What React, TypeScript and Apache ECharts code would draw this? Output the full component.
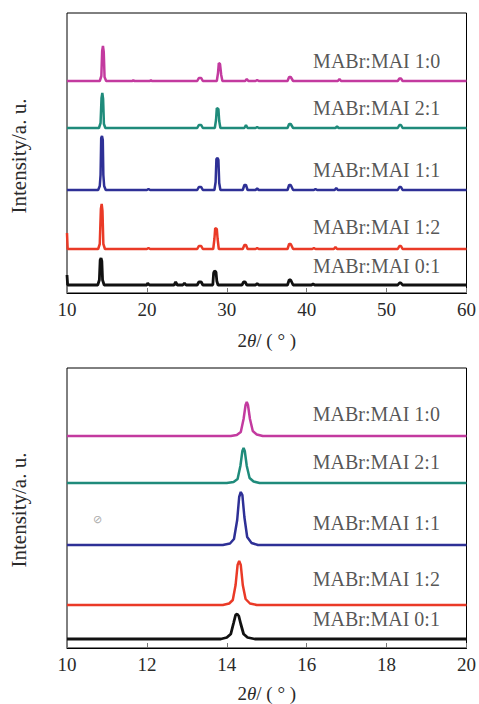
import React, { useEffect, useRef } from "react";
import * as echarts from "echarts";

const FONT = '"Liberation Serif", "Times New Roman", serif';

const NAMES = ["MABr:MAI 1:0", "MABr:MAI 2:1", "MABr:MAI 1:1", "MABr:MAI 1:2", "MABr:MAI 0:1"];
const COLORS = ["#c33a9f", "#1f8b7b", "#2e3096", "#ea3a27", "#111111"];

// Wide scan (2θ 10–60°), raw intensities (a.u.) above each trace's own baseline
const TOP_MAGENTA = [
  [10, 0], [14.1, 0], [14.3, 5], [14.4, 30], [14.5, 35], [14.6, 29], [14.7, 4], [14.9, 0],
  [18.2, 0], [18.3, 1], [18.4, 0], [20.4, 0], [20.5, 1], [20.6, 0],
  [26.3, 0], [26.5, 3], [26.8, 3], [27.0, 0],
  [28.75, 0], [28.9, 8], [29.0, 18], [29.15, 17], [29.3, 6], [29.45, 0],
  [32.3, 0], [32.5, 2], [32.7, 0], [33.6, 0], [33.8, 1], [34.0, 0],
  [37.6, 0], [37.8, 4], [38.0, 4], [38.3, 0],
  [43.9, 0], [44.1, 2], [44.3, 0],
  [51.4, 0], [51.6, 2.5], [51.8, 2.5], [52.0, 0], [60, 0],
];
const TOP_TEAL = [
  [10, 0], [14.0, 0], [14.2, 5], [14.32, 30], [14.42, 35], [14.52, 29], [14.62, 4], [14.8, 0],
  [26.3, 0], [26.5, 3], [26.8, 3], [27.0, 0],
  [28.5, 0], [28.65, 8], [28.75, 20], [28.95, 19], [29.05, 7], [29.2, 0],
  [32.2, 0], [32.4, 3], [32.6, 0], [33.6, 0], [33.8, 1], [34.0, 0],
  [37.6, 0], [37.8, 4], [38.0, 4], [38.3, 0],
  [43.6, 0], [43.8, 1.5], [44.0, 0],
  [51.4, 0], [51.6, 3], [51.8, 3], [52.0, 0], [60, 0],
];
const TOP_BLUE = [
  [10, 0], [13.9, 0], [14.1, 4], [14.2, 15], [14.28, 52], [14.38, 54], [14.48, 50], [14.55, 15], [14.65, 4], [14.85, 0],
  [20.0, 0], [20.2, 1], [20.4, 0],
  [26.3, 0], [26.5, 3], [26.8, 3], [27.0, 0],
  [28.45, 0], [28.6, 8], [28.7, 31], [28.85, 32], [28.95, 30], [29.05, 7], [29.2, 0],
  [32.0, 0], [32.2, 5], [32.4, 5], [32.6, 0], [33.6, 0], [33.8, 1.5], [34.0, 0],
  [37.6, 0], [37.8, 5], [38.0, 5], [38.3, 0],
  [40.9, 0], [41.1, 1], [41.3, 0],
  [43.5, 0], [43.7, 2], [43.9, 0],
  [51.4, 0], [51.6, 3], [51.8, 3], [52.0, 0], [60, 0],
];
const TOP_RED = [
  [10, 16], [10.08, 0], [13.9, 0], [14.1, 5], [14.24, 40], [14.34, 45], [14.44, 38], [14.55, 5], [14.75, 0],
  [20.0, 0], [20.2, 1], [20.4, 0],
  [26.3, 0], [26.5, 3], [26.8, 3], [27.0, 0],
  [28.3, 0], [28.45, 10], [28.55, 21], [28.75, 20], [28.85, 10], [29.0, 0],
  [32.0, 0], [32.2, 4], [32.4, 4], [32.6, 0], [33.6, 0], [33.8, 1], [34.0, 0],
  [37.6, 0], [37.8, 5], [38.0, 5], [38.3, 0],
  [40.7, 0], [40.9, 1], [41.1, 0],
  [43.4, 0], [43.6, 2], [43.8, 0],
  [51.4, 0], [51.6, 3], [51.8, 3], [52.0, 0], [60, 0],
];
const TOP_BLACK = [
  [10, 10], [10.08, 0], [13.85, 0], [14.05, 5], [14.15, 25], [14.26, 27], [14.36, 24], [14.45, 5], [14.65, 0],
  [20.0, 0], [20.1, 2], [20.3, 0],
  [23.4, 0], [23.6, 3], [23.8, 0], [24.5, 0], [24.7, 2], [24.9, 0],
  [26.3, 0], [26.5, 3], [26.8, 3], [27.0, 0],
  [28.25, 0], [28.35, 12], [28.45, 14], [28.65, 13], [28.75, 4], [28.9, 0],
  [31.9, 0], [32.1, 3], [32.3, 3], [32.5, 0], [33.6, 0], [33.8, 1.5], [34.0, 0],
  [37.6, 0], [37.8, 5], [38.0, 5], [38.3, 0],
  [40.6, 0], [40.8, 1], [41.0, 0],
  [51.4, 0], [51.6, 2], [51.8, 2], [52.0, 0], [60, 0],
];

// Narrow scan (2θ 10–20°)
const BOT_MAGENTA = [
  [10, 0], [14.1, 0], [14.25, 1], [14.35, 4], [14.42, 17], [14.47, 31], [14.5, 34], [14.53, 31], [14.58, 17], [14.65, 5], [14.75, 1.5], [14.9, 0], [20, 0],
];
const BOT_TEAL = [
  [10, 0], [14.0, 0], [14.17, 1], [14.27, 4], [14.34, 17], [14.39, 32], [14.42, 35], [14.45, 32], [14.5, 17], [14.57, 5], [14.67, 1.5], [14.82, 0], [20, 0],
];
const BOT_BLUE = [
  [10, 0], [13.9, 0], [14.08, 1.5], [14.18, 6], [14.26, 25], [14.31, 48], [14.35, 53], [14.39, 50], [14.44, 28], [14.51, 8], [14.62, 2], [14.78, 0], [20, 0],
];
const BOT_RED = [
  [10, 0], [13.9, 0], [14.06, 1.5], [14.15, 5], [14.22, 20], [14.27, 40], [14.31, 44], [14.35, 40], [14.4, 20], [14.47, 6], [14.58, 1.5], [14.75, 0], [20, 0],
];
const BOT_BLACK = [
  [10, 0], [13.85, 0], [14.0, 1.5], [14.1, 5], [14.17, 16], [14.22, 24], [14.26, 25], [14.3, 23], [14.35, 15], [14.42, 5], [14.52, 1.5], [14.7, 0], [20, 0],
];

const TOP_DATA = [TOP_MAGENTA, TOP_TEAL, TOP_BLUE, TOP_RED, TOP_BLACK];
const BOT_DATA = [BOT_MAGENTA, BOT_TEAL, BOT_BLUE, BOT_RED, BOT_BLACK];
const TOP_OFFSETS = [212, 165, 103, 44, 8];
const BOT_OFFSETS = [212, 165, 103, 43, 9];
const TOP_LABEL_POS = [[40.8, 232], [40.8, 185], [40.8, 123], [40.8, 66], [40.8, 27]];
const BOT_LABEL_POS = [[16.15, 234], [16.15, 186], [16.15, 125], [16.15, 69], [16.15, 29]];

const X_NAME = "{a|2}{b|θ}{a|/ ( ° )}";
const Y_NAME = "Intensity/a. u.";

const TEXT_COLOR = "#2a2a2a";

function xAxis(gridIndex: number, min: number, max: number, interval: number, nameGap: number) {
  return {
    gridIndex,
    type: "value",
    min,
    max,
    interval,
    axisLine: { show: true, lineStyle: { color: "#000", width: 1 } },
    axisTick: { show: true, inside: true, length: 5, lineStyle: { color: "#777" } },
    axisLabel: { fontFamily: FONT, fontSize: 19, color: TEXT_COLOR, margin: 7 },
    splitLine: { show: false },
    name: X_NAME,
    nameLocation: "middle",
    nameGap,
    nameTextStyle: {
      rich: {
        a: { fontFamily: FONT, fontSize: 19, color: TEXT_COLOR },
        b: { fontFamily: FONT, fontSize: 19, color: TEXT_COLOR, fontStyle: "italic" },
      },
    },
  };
}

function yAxis(gridIndex: number) {
  return {
    gridIndex,
    type: "value",
    min: 0,
    max: 280,
    axisLine: { show: false },
    axisTick: { show: false },
    axisLabel: { show: false },
    splitLine: { show: false },
  };
}

export default function App() {
  const ref = useRef<HTMLDivElement>(null);
  useEffect(() => {
    if (!ref.current) return;
    const chart = echarts.init(ref.current, undefined, { renderer: "svg" });
    const series: any[] = [];
    const addPanel = (axisIdx: number, data: number[][][], offsets: number[], labels: number[][]) => {
      data.forEach((pts, i) => {
        series.push({
          type: "line",
          name: NAMES[i],
          xAxisIndex: axisIdx,
          yAxisIndex: axisIdx,
          data: pts.map(([x, y]) => [x, y + offsets[i]]),
          showSymbol: false,
          symbol: "none",
          silent: true,
          lineStyle: { color: COLORS[i], width: i === 4 ? 2.8 : 2.5 },
          z: 2,
        });
      });
      series.push({
        type: "scatter",
        xAxisIndex: axisIdx,
        yAxisIndex: axisIdx,
        symbolSize: 1,
        silent: true,
        itemStyle: { color: "rgba(0,0,0,0)" },
        data: NAMES.map((n, i) => ({ name: n, value: labels[i] })),
        label: {
          show: true,
          position: "inside",
          align: "left",
          verticalAlign: "middle",
          formatter: (p: any) => p.name,
          fontFamily: FONT,
          fontSize: 20,
          color: TEXT_COLOR,
        },
        z: 3,
      });
    };
    addPanel(0, TOP_DATA, TOP_OFFSETS, TOP_LABEL_POS);
    addPanel(1, BOT_DATA, BOT_OFFSETS, BOT_LABEL_POS);

    chart.setOption({
      animation: false,
      backgroundColor: "#fff",
      grid: [
        { left: 67, top: 13, width: 403, height: 280, show: true, borderColor: "#000", borderWidth: 1, backgroundColor: "transparent" },
        { left: 67, top: 368, width: 403, height: 281, show: true, borderColor: "#000", borderWidth: 1, backgroundColor: "transparent" },
      ],
      xAxis: [xAxis(0, 10, 60, 10, 38), xAxis(1, 10, 20, 2, 36)],
      yAxis: [yAxis(0), yAxis(1)],
      graphic: [
        {
          type: "text",
          x: 19,
          y: 156,
          rotation: Math.PI / 2,
          style: { text: Y_NAME, font: `21px ${FONT}`, fill: TEXT_COLOR, align: "center", verticalAlign: "middle" },
        },
        {
          type: "text",
          x: 19,
          y: 510,
          rotation: Math.PI / 2,
          style: { text: Y_NAME, font: `21px ${FONT}`, fill: TEXT_COLOR, align: "center", verticalAlign: "middle" },
        },
        {
          type: "text",
          x: 97,
          y: 519,
          style: { text: "⊘", font: `11px ${FONT}`, fill: "#aaa", align: "center", verticalAlign: "middle" },
        },
      ],
      series,
    });
    return () => chart.dispose();
  }, []);
  return <div ref={ref} style={{ position: "fixed", left: 0, top: 0, width: 479, height: 704 }} />;
}
